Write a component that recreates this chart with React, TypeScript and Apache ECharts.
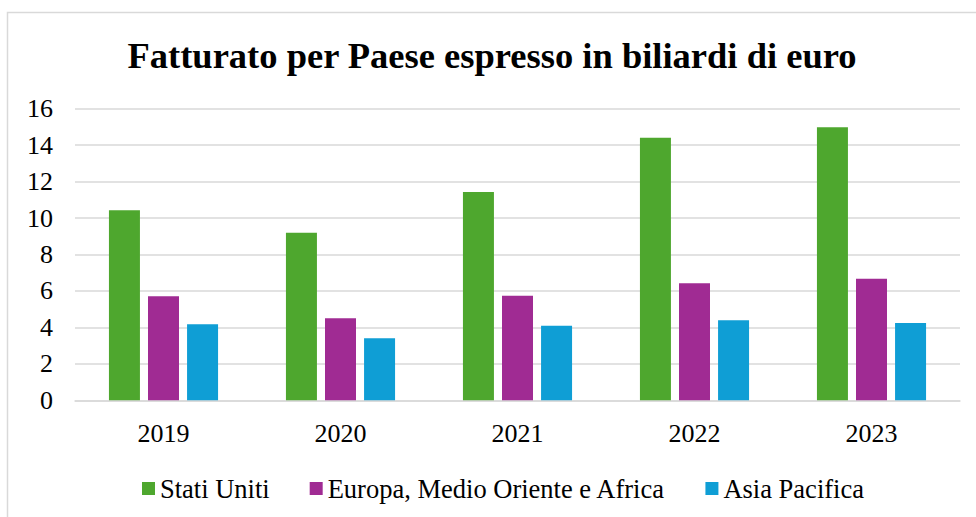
import React, { useEffect, useRef } from "react";
import * as echarts from "echarts";

const categories = ["2019", "2020", "2021", "2022", "2023"];
const statiUniti = [10.43, 9.2, 11.43, 14.4, 14.98];
const europa = [5.71, 4.5, 5.74, 6.42, 6.67];
const asia = [4.17, 3.4, 4.09, 4.39, 4.24];
const seriesNames = ["Stati Uniti", "Europa, Medio Oriente e Africa", "Asia Pacifica"];
const colors = ["#4EA72E", "#A02B93", "#0F9ED5"];
const titleText = "Fatturato per Paese espresso in biliardi di euro";

const FONT = "Liberation Serif";

export default function App() {
  const ref = useRef<HTMLDivElement>(null);
  useEffect(() => {
    if (!ref.current) return;
    const chart = echarts.init(ref.current, undefined, { renderer: "svg" });
    const data = [statiUniti, europa, asia];
    chart.setOption({
      animation: false,
      backgroundColor: "#ffffff",
      textStyle: { fontFamily: FONT },
      graphic: [
        {
          type: "rect",
          shape: { x: 7.5, y: 12.5, width: 1000, height: 600 },
          style: { fill: "none", stroke: "#d9d9d9", lineWidth: 1.5 },
          silent: true,
        },
        {
          type: "text",
          x: 492,
          y: 55,
          style: {
            text: titleText,
            fontFamily: FONT,
            fontWeight: "bold",
            fontSize: 36.5,
            fill: "#000000",
            textAlign: "center",
            textVerticalAlign: "middle",
          },
        },
      ],
      legend: {
        left: 137,
        top: 470,
        itemWidth: 13,
        itemHeight: 13,
        itemGap: 40,
        icon: "rect",
        textStyle: { fontFamily: FONT, fontSize: 26.5, color: "#000" },
        data: seriesNames,
      },
      grid: { left: 75, right: 16, top: 108.7, bottom: 116.7, containLabel: false },
      xAxis: {
        type: "category",
        data: categories,
        axisLine: { show: true, lineStyle: { color: "#d9d9d9", width: 1.5 } },
        axisTick: { show: false },
        axisLabel: { fontFamily: FONT, fontSize: 26, color: "#000", margin: 20 },
      },
      yAxis: {
        type: "value",
        min: 0,
        max: 16,
        interval: 2,
        axisLine: { show: false },
        axisTick: { show: false },
        splitLine: { lineStyle: { color: "#d9d9d9", width: 1.5 } },
        axisLabel: { fontFamily: FONT, fontSize: 26, color: "#000", margin: 22 },
      },
      series: seriesNames.map((name, i) => ({
        name,
        type: "bar",
        data: data[i],
        barWidth: 31,
        barGap: "26%",
        itemStyle: { color: colors[i] },
      })),
    });
    return () => chart.dispose();
  }, []);
  return (
    <div
      ref={ref}
      style={{ position: "fixed", left: 0, top: 0, width: 976, height: 517 }}
    />
  );
}
